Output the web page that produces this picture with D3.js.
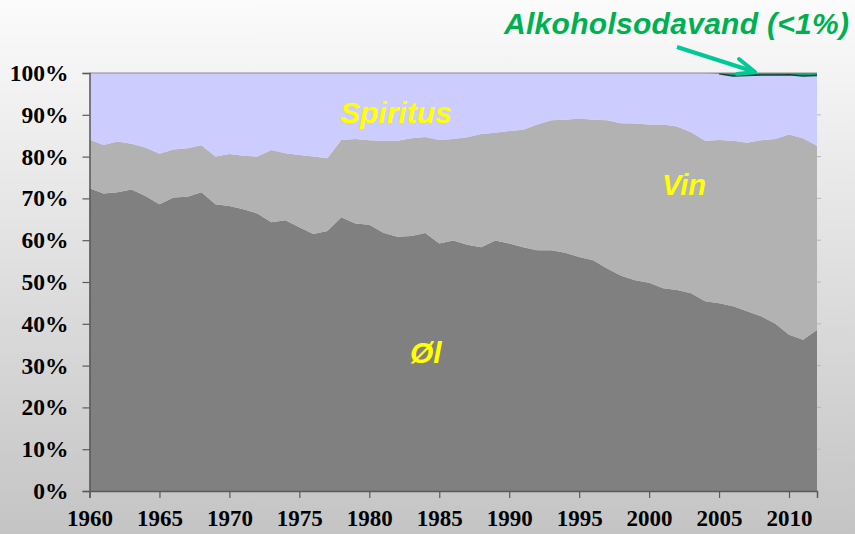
<!DOCTYPE html>
<html>
<head>
<meta charset="utf-8">
<script src="https://cdn.jsdelivr.net/npm/d3@7"></script>
<style>
  html, body { margin: 0; padding: 0; }
  svg { display: block; }
</style>
</head>
<body>
<svg id="chart"></svg>
<script>
// years 1960..2012
const years = [1960,1961,1962,1963,1964,1965,1966,1967,1968,1969,
  1970,1971,1972,1973,1974,1975,1976,1977,1978,1979,
  1980,1981,1982,1983,1984,1985,1986,1987,1988,1989,
  1990,1991,1992,1993,1994,1995,1996,1997,1998,1999,
  2000,2001,2002,2003,2004,2005,2006,2007,2008,2009,
  2010,2011,2012];

// shares in percent
const ol = [72.4,71.2,71.5,72.1,70.6,68.6,70.2,70.4,71.5,68.6,
  68.2,67.4,66.4,64.3,64.8,63.1,61.5,62.2,65.5,64.0,
  63.7,61.8,60.8,61.0,61.7,59.2,59.9,58.9,58.3,59.9,
  59.2,58.3,57.6,57.6,57.0,56.0,55.2,53.2,51.5,50.4,
  49.8,48.5,48.1,47.3,45.4,44.9,44.2,43.0,41.8,40.1,
  37.4,36.2,38.5];

const vin = [11.7,11.6,12.1,11.0,11.6,12.1,11.5,11.6,11.2,11.4,
  12.4,12.8,13.6,17.3,16.0,17.3,18.5,17.4,18.5,20.2,
  20.2,22.0,23.0,23.4,23.0,24.8,24.3,25.7,27.1,25.8,
  26.9,28.1,30.1,31.1,31.8,33.1,33.6,35.5,36.5,37.5,
  37.9,39.2,39.1,38.5,38.4,39.1,39.6,40.3,42.1,44.1,
  47.9,48.2,44.1];

const spiritus = [15.9,17.2,16.4,16.9,17.8,19.3,18.3,18.0,17.3,20.0,
  19.4,19.8,20.0,18.4,19.2,19.6,20.0,20.4,16.0,15.8,
  16.1,16.2,16.2,15.6,15.3,16.0,15.8,15.4,14.6,14.3,
  13.9,13.6,12.3,11.3,11.2,10.9,11.2,11.3,12.0,12.1,
  12.3,12.3,12.8,14.2,16.2,15.8,15.5,16.1,15.6,15.3,
  14.3,14.9,16.8];

const sodavand = [0,0,0,0,0,0,0,0,0,0,
  0,0,0,0,0,0,0,0,0,0,
  0,0,0,0,0,0,0,0,0,0,
  0,0,0,0,0,0,0,0,0,0,
  0,0,0,0,0,0.2,0.7,0.6,0.5,0.5,
  0.4,0.7,0.6];

const keys = ["ol", "vin", "spiritus", "sodavand"];
const colors = { ol: "#808080", vin: "#b2b2b2", spiritus: "#ccccff", sodavand: "#00a878" };
const yTicks = [0,10,20,30,40,50,60,70,80,90,100];
const xTicks = [1960,1965,1970,1975,1980,1985,1990,1995,2000,2005,2010];

const W = 855, H = 534;
const margin = {top: 73, right: 38, bottom: 43, left: 89.5};
const width = W - margin.left - margin.right,
      height = H - margin.top - margin.bottom;

const rows = years.map((y, i) => ({
  year: y, ol: ol[i], vin: vin[i], spiritus: spiritus[i], sodavand: sodavand[i]
}));

const svg = d3.select("#chart").attr("width", W).attr("height", H);

// background gradient
const grad = svg.append("defs").append("linearGradient")
  .attr("id", "bg").attr("x1", 0).attr("y1", 0).attr("x2", 0).attr("y2", 1);
grad.append("stop").attr("offset", "0%").attr("stop-color", "#fbfbfb");
grad.append("stop").attr("offset", "100%").attr("stop-color", "#c4c4c4");
svg.append("rect").attr("width", W).attr("height", H).attr("fill", "url(#bg)");

const g = svg.append("g").attr("transform", "translate(" + margin.left + "," + margin.top + ")");

const x = d3.scaleLinear().domain([1960, 2012]).range([0, width]);
const y = d3.scaleLinear().domain([0, 100]).range([height, 0]);

const series = d3.stack().keys(keys)(rows);

const area = d3.area()
  .x(d => x(d.data.year))
  .y0(d => y(d[0]))
  .y1(d => y(Math.min(100, d[1])));

g.selectAll("path.layer")
  .data(series)
  .join("path")
  .attr("class", "layer")
  .attr("fill", d => colors[d.key])
  .attr("d", area);

// dark edge under the sodavand sliver
const sodaSeries = series.find(s => s.key === "sodavand").filter(d => d.data.year >= 2005);
g.append("path")
  .datum(sodaSeries)
  .attr("fill", "none")
  .attr("stroke", "#1e3b32")
  .attr("stroke-width", 1.5)
  .attr("d", d3.line().x(d => x(d.data.year)).y(d => y(d[0])));

// top border
g.append("line")
  .attr("x1", 0).attr("x2", width).attr("y1", 0).attr("y2", 0)
  .attr("stroke", "#8a8a8a").attr("stroke-width", 1);

// faint ticks on the right edge
g.selectAll("line.rtick")
  .data(yTicks.slice(1, -1))
  .join("line")
  .attr("class", "rtick")
  .attr("x1", width).attr("x2", width + 4)
  .attr("y1", d => y(d)).attr("y2", d => y(d))
  .attr("stroke", "#b8b8b8");

// axes
const yAxis = g.append("g")
  .call(d3.axisLeft(y).tickValues(yTicks).tickFormat(d => d + "%").tickSize(7).tickPadding(14));
const xAxis = g.append("g")
  .attr("transform", "translate(0," + height + ")")
  .call(d3.axisBottom(x).tickValues(xTicks).tickFormat(d3.format("d")).tickSize(7).tickPadding(12));

[yAxis, xAxis].forEach(a => {
  a.select(".domain").attr("stroke", "#5a5a5a").attr("stroke-width", 1.5);
  a.selectAll(".tick line").attr("stroke", "#5a5a5a").attr("stroke-width", 1.2);
  a.selectAll("text")
    .attr("fill", "#000")
    .style("font-family", "'Liberation Serif', 'Times New Roman', serif")
    .style("font-weight", "bold");
});
yAxis.selectAll("text").style("font-size", "23.5px");
xAxis.selectAll("text").style("font-size", "23px");

// series labels
const labelFont = "'Liberation Sans', Arial, sans-serif";
const labels = [
  {text: "Spiritus", x: 340, y: 123, size: 30},
  {text: "Vin", x: 662, y: 195, size: 29},
  {text: "\u00d8l", x: 410, y: 363, size: 30}
];
svg.selectAll("text.lbl")
  .data(labels)
  .join("text")
  .attr("class", "lbl")
  .attr("x", d => d.x).attr("y", d => d.y)
  .attr("fill", "#ffff00")
  .style("font-family", labelFont)
  .style("font-weight", "bold")
  .style("font-style", "italic")
  .style("font-size", d => d.size + "px")
  .text(d => d.text);

svg.append("text")
  .attr("x", 504).attr("y", 34)
  .attr("fill", "#00b050")
  .attr("textLength", 345)
  .style("font-family", labelFont)
  .style("font-weight", "bold")
  .style("font-style", "italic")
  .style("font-size", "30px")
  .text("Alkoholsodavand (<1%)");

// arrow
svg.append("line")
  .attr("x1", 677).attr("y1", 47).attr("x2", 752).attr("y2", 71)
  .attr("stroke", "#00c896").attr("stroke-width", 4);
svg.append("polyline")
  .attr("points", "739,59 755,72 737,74")
  .attr("fill", "none")
  .attr("stroke", "#00c896").attr("stroke-width", 4)
  .attr("stroke-linejoin", "round").attr("stroke-linecap", "round");
</script>
</body>
</html>
